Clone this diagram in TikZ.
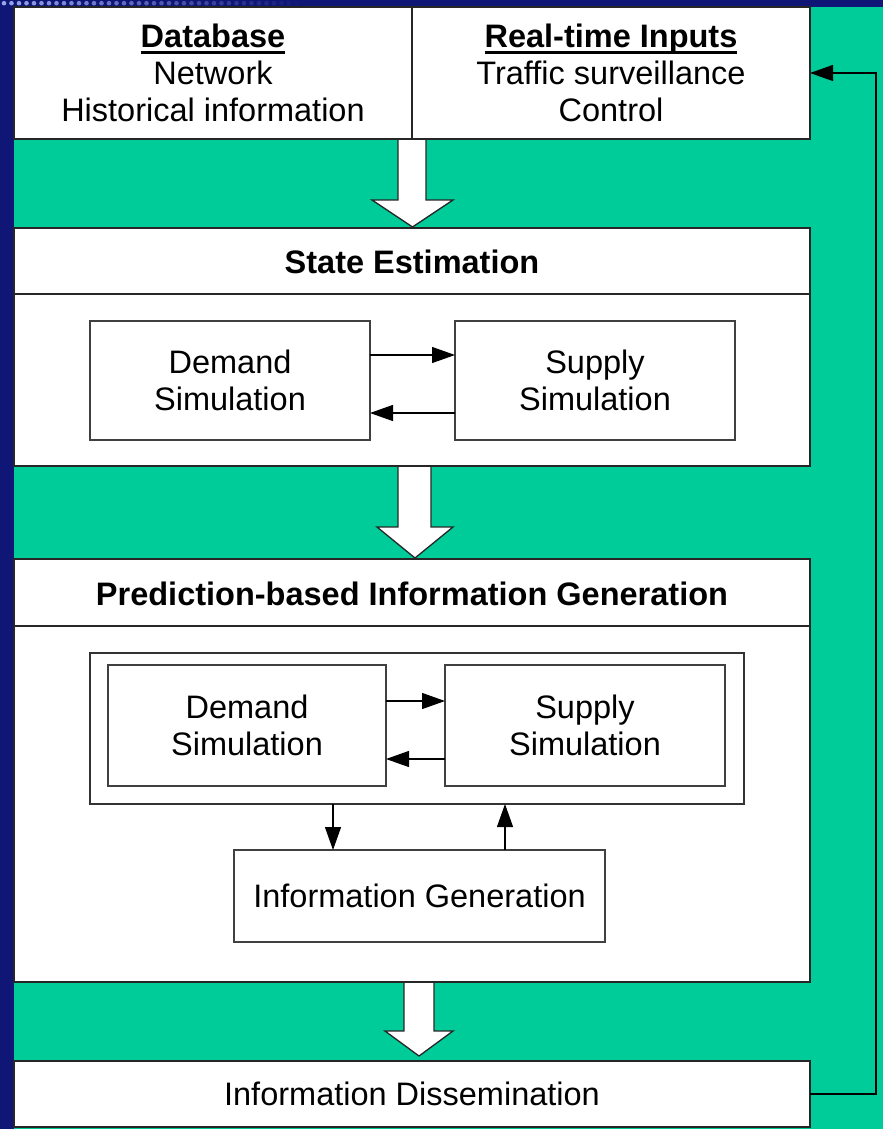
\documentclass[tikz,border=0pt]{standalone}
\usepackage{fontspec}
\setmainfont{Liberation Sans}
\usetikzlibrary{arrows.meta}
\definecolor{teal1}{RGB}{0,204,153}
\definecolor{navy1}{RGB}{16,22,118}
\definecolor{dot1}{RGB}{150,165,235}
\newcommand\myul[1]{\leavevmode\setbox0\hbox{#1}\rlap{\rule[-6pt]{\wd0}{3pt}}\box0}
\begin{document}
\begin{tikzpicture}[x=1pt,y=-1pt,
  txt/.style={font=\fontsize{32.5}{37}\selectfont, align=center},
  bigbox/.style={draw=black!85, line width=1.6pt, fill=white, outer sep=0pt, inner sep=0pt},
  simbox/.style={draw=black!75, line width=1.3pt, fill=white, outer sep=0pt, inner sep=0pt, txt},
  arr/.style={draw=black, line width=1.2pt, -{Triangle[length=23pt,width=16pt]}},
  bigarrow/.style={fill=white, draw=black!85, line width=1.3pt}
]
\useasboundingbox (0,0) rectangle (883,1129);
% background
\fill[navy1] (0,0) rectangle (883,1129);
\fill[teal1] (14,7) rectangle (883,1129);
\foreach \i in {0,...,40} {
  \pgfmathsetmacro{\op}{max(0,1-\i/40)}
  \fill[dot1, opacity=\op] (4+7.5*\i,3.2) circle (2.3pt);
}
% big arrows
\draw[bigarrow] (398,139) -- (398,200) -- (372,200) -- (412.5,227) -- (453,200) -- (426,200) -- (426,139);
\draw[bigarrow] (398,466) -- (398,527) -- (377,527) -- (415,558) -- (453,527) -- (431,527) -- (431,466);
\draw[bigarrow] (404,982) -- (404,1031) -- (385,1031) -- (419,1056) -- (453,1031) -- (434,1031) -- (434,982);
% top box
\node[bigbox, minimum width=398pt, minimum height=132pt, txt] (db) at (213,73)
  {\textbf{\myul{Database}}\\Network\\Historical information};
\node[bigbox, minimum width=398pt, minimum height=132pt, txt] (rt) at (611,73)
  {\textbf{\myul{Real-time Inputs}}\\Traffic surveillance\\Control};
% state estimation
\node[bigbox, minimum width=796pt, minimum height=238pt] (se) at (412,347) {};
\draw[black!85, line width=1.3pt] (se.west |- 0,294) -- (se.east |- 0,294);
\node[txt, font=\fontsize{32.5}{37}\selectfont\bfseries] (set) at (412,262) {State Estimation};
\node[simbox, minimum width=280pt, minimum height=119pt] (d1) at (230,380.5) {Demand\\Simulation};
\node[simbox, minimum width=280pt, minimum height=119pt] (s1) at (595,380.5) {Supply\\Simulation};
\draw[arr] ([yshift=25.5pt]d1.east) -- ([yshift=25.5pt]s1.west);
\draw[arr] ([yshift=-32.5pt]s1.west) -- ([yshift=-32.5pt]d1.east);
% prediction
\node[bigbox, minimum width=796pt, minimum height=423pt] (pr) at (412,770.5) {};
\draw[black!85, line width=1.3pt] (pr.west |- 0,626) -- (pr.east |- 0,626);
\node[txt, font=\fontsize{32.5}{37}\selectfont\bfseries] (prt) at (412,594) {Prediction-based Information Generation};
\node[draw=black!80, line width=1.3pt, minimum width=654pt, minimum height=151pt, outer sep=0pt] (fr) at (417,728.5) {};
\node[simbox, minimum width=278pt, minimum height=121pt] (d2) at (247,725.5) {Demand\\Simulation};
\node[simbox, minimum width=280pt, minimum height=121pt] (s2) at (585,725.5) {Supply\\Simulation};
\draw[arr] ([yshift=24.5pt]d2.east) -- ([yshift=24.5pt]s2.west);
\draw[arr] ([yshift=-33.5pt]s2.west) -- ([yshift=-33.5pt]d2.east);
\node[simbox, minimum width=371pt, minimum height=92pt] (ig) at (419.5,896) {Information Generation};
\coordinate (dn) at (333,0);
\coordinate (up) at (505,0);
\draw[arr] (fr.south -| dn) -- (ig.north -| dn);
\draw[arr] (ig.north -| up) -- (fr.south -| up);
% dissemination
\node[bigbox, minimum width=796pt, minimum height=66pt, txt] (dis) at (412,1094) {\raisebox{-3pt}{Information Dissemination}};
% feedback
\coordinate (fb) at (876,1094);
\draw[arr] (dis.east) -- (fb) -- (fb |- rt.east) -- (rt.east);
\end{tikzpicture}
\end{document}
